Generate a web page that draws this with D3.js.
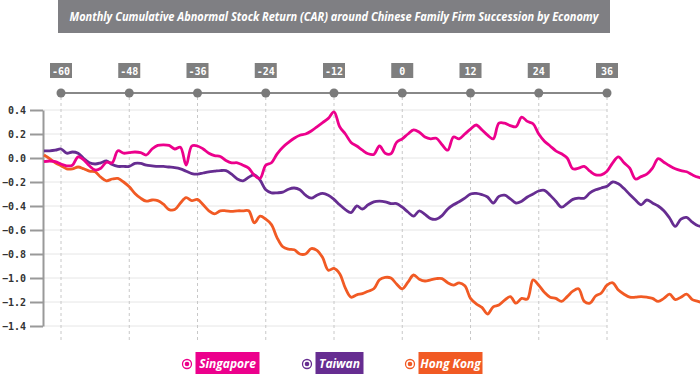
<!DOCTYPE html>
<html>
<head>
<meta charset="utf-8">
<script src="https://cdn.jsdelivr.net/npm/d3@7"></script>
<style>
  body { margin: 0; background: #fff; }
  #canvas { width: 700px; height: 389px; }
</style>
</head>
<body>
<div id="canvas" class="canvas"></div>
<script>
// event months relative to succession (month 0)
var months = d3.range(-63, 54);
var topTicks = [-60, -48, -36, -24, -12, 0, 12, 24, 36];
var yTicks = [0.4, 0.2, 0.0, -0.2, -0.4, -0.6, -0.8, -1.0, -1.2, -1.4];
var seriesNames = ['Singapore', 'Taiwan', 'Hong Kong'];
var seriesColors = ['#ec008c', '#662d91', '#f15a24'];

var singapore = [
  -0.03, -0.025, -0.03, -0.05, -0.065, -0.06, 0.01, -0.015, -0.065, -0.1,
  -0.085, -0.035, -0.04, 0.06, 0.04, 0.045, 0.05, 0.045, 0.025, 0.075,
  0.105, 0.11, 0.105, 0.075, 0.09, -0.06, 0.1, 0.1, 0.075, 0.04,
  0.02, 0.0125, -0.02, -0.04, -0.04, -0.06, -0.085, -0.145, -0.17, -0.06,
  -0.04, 0.035, 0.09, 0.13, 0.165, 0.19, 0.2, 0.225, 0.26, 0.295,
  0.33, 0.385, 0.26, 0.2, 0.13, 0.1, 0.065, 0.035, 0.03, 0.1,
  0.04, 0.035, 0.13, 0.16, 0.2, 0.235, 0.215, 0.175, 0.16, 0.165,
  0.11, 0.065, 0.175, 0.16, 0.2, 0.24, 0.275, 0.235, 0.19, 0.16,
  0.29, 0.29, 0.27, 0.26, 0.34, 0.305, 0.285, 0.2, 0.14, 0.1,
  0.06, 0.035, 0.0, -0.09, -0.085, -0.07, -0.11, -0.14, -0.14, -0.11,
  -0.04, 0.01, -0.04, -0.085, -0.175, -0.155, -0.135, -0.085, -0.005, -0.035,
  -0.065, -0.09, -0.105, -0.115, -0.14, -0.16, -0.17
];
var taiwan = [
  0.06, 0.06, 0.065, 0.075, 0.04, 0.05, 0.04, -0.005, -0.04, -0.05,
  -0.04, -0.025, -0.055, -0.07, -0.07, -0.07, -0.045, -0.045, -0.06, -0.065,
  -0.07, -0.07, -0.075, -0.08, -0.09, -0.11, -0.13, -0.135, -0.125, -0.115,
  -0.11, -0.105, -0.105, -0.135, -0.175, -0.19, -0.16, -0.14, -0.185, -0.265,
  -0.29, -0.29, -0.285, -0.26, -0.25, -0.265, -0.31, -0.335, -0.31, -0.295,
  -0.31, -0.345, -0.39, -0.43, -0.455, -0.4, -0.425, -0.39, -0.365, -0.36,
  -0.365, -0.38, -0.38, -0.41, -0.45, -0.485, -0.44, -0.47, -0.505, -0.51,
  -0.48, -0.425, -0.39, -0.365, -0.335, -0.3, -0.295, -0.305, -0.325, -0.375,
  -0.32, -0.31, -0.34, -0.375, -0.36, -0.325, -0.3, -0.275, -0.27, -0.31,
  -0.36, -0.41, -0.38, -0.345, -0.335, -0.335, -0.29, -0.265, -0.25, -0.235,
  -0.2, -0.215, -0.255, -0.305, -0.35, -0.39, -0.35, -0.375, -0.4, -0.44,
  -0.5, -0.57, -0.51, -0.495, -0.535, -0.565, -0.57
];
var hongKong = [
  0.025, -0.005, -0.04, -0.065, -0.09, -0.09, -0.075, -0.09, -0.11, -0.115,
  -0.16, -0.19, -0.175, -0.17, -0.2, -0.24, -0.295, -0.335, -0.36, -0.35,
  -0.355, -0.385, -0.43, -0.43, -0.375, -0.33, -0.355, -0.345, -0.39, -0.44,
  -0.465, -0.44, -0.44, -0.445, -0.44, -0.44, -0.44, -0.54, -0.485, -0.51,
  -0.555, -0.665, -0.74, -0.76, -0.765, -0.8, -0.8, -0.755, -0.77, -0.83,
  -0.935, -0.92, -0.965, -1.085, -1.16, -1.14, -1.13, -1.11, -1.09, -1.015,
  -0.995, -1.0, -1.05, -1.09, -1.035, -0.975, -1.01, -1.025, -1.015, -1.005,
  -1.005, -1.04, -1.06, -1.04, -1.065, -1.17, -1.215, -1.245, -1.3, -1.24,
  -1.225, -1.185, -1.155, -1.21, -1.17, -1.175, -1.015, -1.06, -1.12, -1.16,
  -1.17, -1.195, -1.155, -1.11, -1.09, -1.195, -1.21, -1.15, -1.125, -1.06,
  -1.04, -1.1, -1.135, -1.16, -1.16, -1.155, -1.16, -1.17, -1.195, -1.17,
  -1.135, -1.18, -1.16, -1.135, -1.18, -1.195, -1.21
];
var seriesValues = [singapore, taiwan, hongKong];

var W = 700, H = 389;
var svg = d3.select('.canvas').append('svg')
  .attr('width', W).attr('height', H);

// scales
var x = d3.scaleLinear().domain([-60, 36]).range([61, 607]);
var y = d3.scaleLinear().domain([-1.4, 0.4]).range([326, 110]);
var plotLeft = 43, plotRight = 607;

// title
svg.append('rect').attr('x', 58).attr('y', 0).attr('width', 552).attr('height', 33)
  .attr('fill', '#7f7f83');
svg.append('text').attr('x', 334).attr('y', 20.5)
  .attr('text-anchor', 'middle')
  .attr('textLength', 529).attr('lengthAdjust', 'spacingAndGlyphs')
  .style('font-family', '"Open Sans", sans-serif').style('font-weight', 'bold')
  .style('font-style', 'italic').style('font-size', '12.5px').attr('fill', '#fff')
  .text('Monthly Cumulative Abnormal Stock Return (CAR) around Chinese Family Firm Succession by Economy');

// horizontal grid
svg.append('g').selectAll('line').data(yTicks).enter().append('line')
  .attr('x1', plotLeft).attr('x2', plotRight)
  .attr('y1', function (d) { return y(d); }).attr('y2', function (d) { return y(d); })
  .attr('stroke', '#e6e6e6').attr('stroke-width', 1);

// vertical dotted lines
svg.append('g').selectAll('line').data(topTicks).enter().append('line')
  .attr('x1', function (d) { return x(d); }).attr('x2', function (d) { return x(d); })
  .attr('y1', 97).attr('y2', 343)
  .attr('stroke', '#c8c8c8').attr('stroke-width', 1).attr('stroke-dasharray', '3,3');

// y axis
var axisY = d3.axisLeft(y).tickValues(yTicks).tickSize(13).tickSizeOuter(0)
  .tickFormat(d3.format('.1f'));
var gy = svg.append('g').attr('transform', 'translate(' + plotLeft + ',0)').call(axisY);
gy.select('.domain').attr('stroke', '#999').attr('stroke-width', 2);
gy.selectAll('.tick line').attr('stroke', '#999').attr('stroke-width', 2);
gy.selectAll('.tick text')
  .style('font-family', '"DejaVu Sans Mono", monospace').style('font-weight', 'bold')
  .style('font-size', '10px').attr('fill', '#333').attr('x', -17);

// top axis with dots and boxed labels
svg.append('line').attr('x1', x(-60)).attr('x2', x(36)).attr('y1', 93).attr('y2', 93)
  .attr('stroke', '#888').attr('stroke-width', 2);
var tt = svg.append('g').selectAll('g').data(topTicks).enter().append('g')
  .attr('transform', function (d) { return 'translate(' + x(d) + ',0)'; });
tt.append('circle').attr('cy', 93).attr('r', 4.5).attr('fill', '#7a7a7a');
tt.append('rect').attr('x', -11).attr('y', 63).attr('width', 22).attr('height', 15)
  .attr('fill', '#7f7f7f');
tt.append('text').attr('y', 74.5).attr('text-anchor', 'middle')
  .style('font-family', '"DejaVu Sans Mono", monospace').style('font-weight', 'bold')
  .style('font-size', '10px').attr('fill', '#fff')
  .text(function (d) { return d; });

// lines
svg.append('clipPath').attr('id', 'clip').append('rect')
  .attr('x', plotLeft).attr('y', 90).attr('width', W - plotLeft).attr('height', 260);
var line = d3.line()
  .x(function (d, i) { return x(months[i]); })
  .y(function (d) { return y(d); })
  .curve(d3.curveCatmullRom.alpha(0.5));
var order = [2, 1, 0];
svg.append('g').attr('clip-path', 'url(#clip)').selectAll('path')
  .data(order).enter().append('path')
  .attr('d', function (k) { return line(seriesValues[k]); })
  .attr('fill', 'none')
  .attr('stroke', function (k) { return seriesColors[k]; })
  .attr('stroke-width', 2.8)
  .attr('stroke-linejoin', 'round');

// legend
var legendX = [187, 307, 410];
var legendW = [64, 48, 64];
var lg = svg.append('g').selectAll('g').data(seriesNames).enter().append('g')
  .attr('transform', function (d, i) { return 'translate(' + legendX[i] + ',364)'; });
lg.append('circle').attr('r', 4.5).attr('fill', '#fff')
  .attr('stroke', function (d, i) { return seriesColors[i]; }).attr('stroke-width', 1.3);
lg.append('circle').attr('r', 2.3)
  .attr('fill', function (d, i) { return seriesColors[i]; });
lg.append('rect').attr('x', 8.5).attr('y', -12)
  .attr('width', function (d, i) { return legendW[i]; }).attr('height', 22)
  .attr('fill', function (d, i) { return seriesColors[i]; });
lg.append('text').attr('x', function (d, i) { return 8.5 + legendW[i] / 2; }).attr('y', 4)
  .attr('text-anchor', 'middle')
  .style('font-family', '"Open Sans", sans-serif').style('font-weight', 'bold')
  .style('font-style', 'italic').style('font-size', '12px').attr('fill', '#fff')
  .text(function (d) { return d; });
</script>
</body>
</html>
